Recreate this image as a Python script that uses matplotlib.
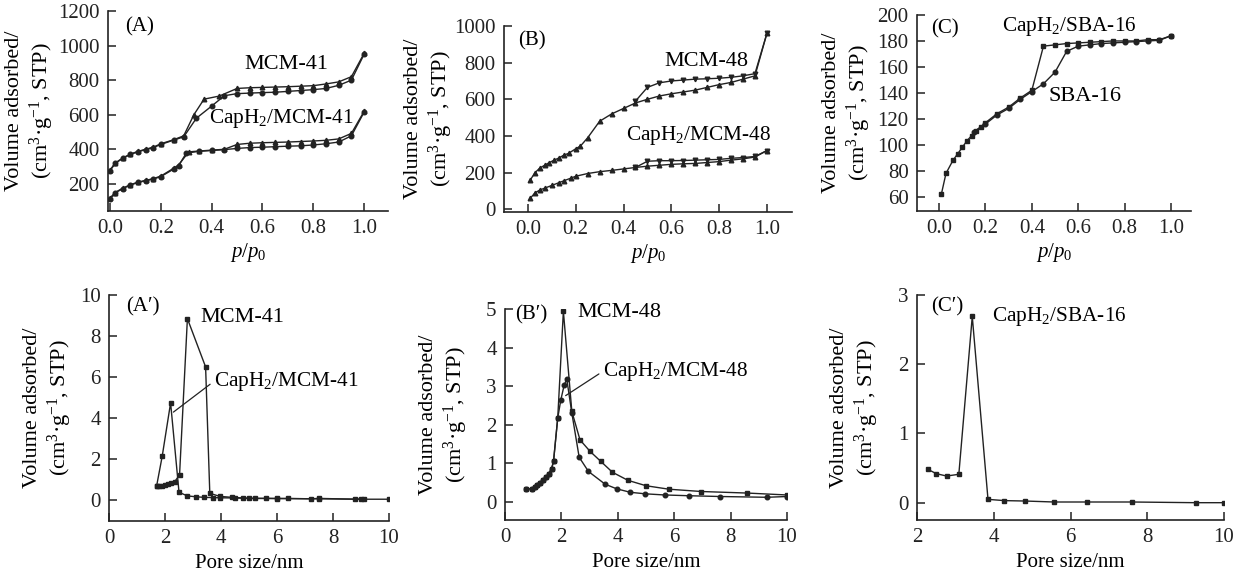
import matplotlib
matplotlib.use("Agg")
import matplotlib.pyplot as plt

plt.rcParams['font.family'] = ['Liberation Serif', 'DejaVu Serif']
plt.rcParams['mathtext.fontset'] = 'custom'
plt.rcParams['mathtext.rm'] = 'Liberation Serif'
plt.rcParams['mathtext.it'] = 'Liberation Serif:italic'
plt.rcParams['font.size'] = 15

INK = '#222222'

# ---- (A) MCM-41 isotherms ----
a_mcm_ads_p = [0.0, 0.02, 0.05, 0.08, 0.11, 0.14, 0.17, 0.2, 0.25, 0.29, 0.33, 0.37, 0.43, 0.5, 0.55, 0.6, 0.65, 0.7, 0.75, 0.8, 0.85, 0.9, 0.95, 1.0]
a_mcm_ads_v = [280, 320, 350, 372, 388, 400, 412, 432, 455, 478, 600, 690, 708, 752, 756, 758, 760, 762, 765, 768, 778, 790, 820, 955]
a_mcm_des_p = [0.0, 0.02, 0.05, 0.08, 0.11, 0.14, 0.17, 0.2, 0.25, 0.29, 0.34, 0.40, 0.45, 0.5, 0.55, 0.6, 0.65, 0.7, 0.75, 0.8, 0.85, 0.9, 0.95, 1.0]
a_mcm_des_v = [275, 318, 348, 370, 386, 398, 410, 428, 453, 472, 580, 650, 710, 722, 725, 728, 730, 735, 740, 745, 752, 770, 800, 950]
a_cap_ads_p = [0.0, 0.02, 0.05, 0.08, 0.11, 0.14, 0.17, 0.2, 0.25, 0.27, 0.31, 0.35, 0.4, 0.45, 0.5, 0.55, 0.6, 0.65, 0.7, 0.75, 0.8, 0.85, 0.9, 0.95, 1.0]
a_cap_ads_v = [118, 150, 175, 195, 210, 220, 230, 245, 290, 310, 385, 390, 395, 400, 428, 435, 438, 440, 442, 445, 448, 452, 460, 492, 620]
a_cap_des_p = [0.0, 0.02, 0.05, 0.08, 0.11, 0.14, 0.17, 0.2, 0.25, 0.27, 0.30, 0.35, 0.4, 0.45, 0.5, 0.55, 0.6, 0.65, 0.7, 0.75, 0.8, 0.85, 0.9, 0.95, 1.0]
a_cap_des_v = [112, 148, 172, 193, 208, 218, 228, 242, 285, 305, 378, 388, 393, 398, 405, 410, 412, 415, 418, 420, 425, 432, 442, 478, 615]

# ---- (B) MCM-48 isotherms ----
b_mcm_ads_p = [0.01, 0.03, 0.05, 0.07, 0.09, 0.11, 0.13, 0.15, 0.17, 0.2, 0.22, 0.25, 0.3, 0.35, 0.4, 0.45, 0.5, 0.55, 0.6, 0.65, 0.7, 0.75, 0.8, 0.85, 0.9, 0.95, 1.0]
b_mcm_ads_v = [160, 200, 225, 240, 255, 268, 280, 295, 305, 330, 345, 390, 480, 520, 550, 580, 600, 618, 630, 640, 650, 665, 680, 692, 710, 728, 960]
b_mcm_des_p = [0.45, 0.5, 0.55, 0.6, 0.65, 0.7, 0.75, 0.8, 0.85, 0.9, 0.95, 1.0]
b_mcm_des_v = [590, 665, 690, 700, 705, 710, 712, 715, 720, 728, 740, 960]
b_cap_ads_p = [0.01, 0.03, 0.05, 0.07, 0.1, 0.13, 0.15, 0.18, 0.2, 0.25, 0.3, 0.35, 0.4, 0.45, 0.5, 0.55, 0.6, 0.65, 0.7, 0.75, 0.8, 0.85, 0.9, 0.95, 1.0]
b_cap_ads_v = [60, 90, 105, 115, 130, 145, 155, 170, 180, 195, 205, 212, 220, 228, 235, 240, 245, 248, 250, 255, 260, 268, 275, 285, 320]
b_cap_des_p = [0.45, 0.5, 0.55, 0.6, 0.65, 0.7, 0.75, 0.8, 0.85, 0.9, 0.95, 1.0]
b_cap_des_v = [228, 262, 265, 265, 266, 268, 270, 272, 278, 282, 288, 320]

# ---- (C) SBA-16 isotherms ----
c_s1_p = [0.01, 0.03, 0.06, 0.08, 0.1, 0.12, 0.14, 0.16, 0.18, 0.2, 0.25, 0.3, 0.35, 0.4, 0.45, 0.5, 0.55, 0.6, 0.65, 0.7, 0.75, 0.8, 0.85, 0.9, 0.95, 1.0]
c_s1_v = [62, 78, 88, 93, 98, 103, 107, 111, 114, 117, 124, 129, 136, 142, 176, 177, 178, 178.5, 179, 179.5, 180, 180, 180, 181, 181, 184]
c_s2_p = [0.15, 0.2, 0.25, 0.3, 0.35, 0.4, 0.45, 0.5, 0.55, 0.6, 0.65, 0.7, 0.75, 0.8, 0.85, 0.9, 0.95, 1.0]
c_s2_v = [110, 116, 123, 128, 135, 141, 147, 156, 172, 176, 177, 178, 178.5, 179, 179.5, 180, 180.5, 184]

# ---- (A') pore size distributions ----
ap_mcm_d = [1.7, 1.8, 1.9, 2.0, 2.1, 2.2, 2.35, 2.52, 2.8, 3.45, 3.6, 3.95, 4.4, 4.8, 5.2, 6.0, 6.4, 7.2, 7.5, 8.8, 9.1]
ap_mcm_v = [0.68, 0.68, 0.7, 0.75, 0.8, 0.85, 0.92, 1.25, 8.85, 6.5, 0.35, 0.2, 0.15, 0.12, 0.1, 0.1, 0.1, 0.08, 0.1, 0.06, 0.08]
ap_cap_d = [1.7, 1.9, 2.2, 2.5, 2.8, 3.1, 3.4, 3.7, 3.95, 4.5, 5.0, 5.6, 6.0, 7.5, 9.0, 10.0]
ap_cap_v = [0.7, 2.15, 4.75, 0.4, 0.22, 0.18, 0.15, 0.14, 0.13, 0.12, 0.1, 0.1, 0.09, 0.08, 0.06, 0.06]

# ---- (B') pore size distributions ----
bp_mcm_d = [0.75, 0.95, 1.05, 1.15, 1.25, 1.35, 1.45, 1.55, 1.65, 1.72, 1.87, 2.07, 2.37, 2.66, 3.02, 3.4, 3.81, 4.36, 5.0, 5.81, 6.96, 8.58, 10.0]
bp_mcm_v = [0.33, 0.33, 0.37, 0.42, 0.48, 0.55, 0.63, 0.72, 0.85, 1.04, 2.17, 4.94, 2.34, 1.6, 1.3, 1.04, 0.76, 0.55, 0.41, 0.32, 0.26, 0.22, 0.17]
bp_cap_d = [0.75, 0.95, 1.05, 1.15, 1.25, 1.35, 1.45, 1.55, 1.65, 1.72, 1.87, 1.98, 2.1, 2.19, 2.37, 2.63, 2.96, 3.55, 3.96, 4.44, 4.97, 5.66, 6.54, 7.63, 9.29, 10.0]
bp_cap_v = [0.33, 0.33, 0.37, 0.42, 0.48, 0.55, 0.63, 0.72, 0.85, 1.04, 2.17, 2.64, 3.03, 3.18, 2.3, 1.15, 0.78, 0.45, 0.33, 0.24, 0.2, 0.17, 0.15, 0.13, 0.11, 0.13]

# ---- (C') pore size distribution ----
cp_d = [2.29, 2.5, 2.77, 3.09, 3.44, 3.85, 4.28, 4.82, 5.57, 6.42, 7.6, 9.26, 10.0]
cp_v = [0.48, 0.42, 0.385, 0.41, 2.69, 0.048, 0.03, 0.024, 0.01, 0.01, 0.01, 0.0, 0.0]

W, H = 1235, 575
fig = plt.figure(figsize=(W / 100, H / 100), dpi=100)

ylab = 'Volume adsorbed/\n(cm$^3$·g$^{-1}$, STP)'
kw = dict(color=INK, lw=1.0, ms=3.3)


def make_ax(left, right, top, bottom, label_gap):
    ax = fig.add_axes([left / W, 1 - bottom / H, (right - left) / W, (bottom - top) / H])
    for s in ['top', 'right']:
        ax.spines[s].set_visible(False)
    for s in ['left', 'bottom']:
        ax.spines[s].set_linewidth(1.2)
        ax.spines[s].set_color(INK)
    ax.tick_params(direction='in', length=6, width=1.1, colors=INK, labelsize=15, pad=6)
    ax.set_ylabel(ylab, fontsize=16)
    # right edge of the y label block sits label_gap px left of the spine
    ax.yaxis.set_label_coords(-label_gap / (right - left), 0.5)
    return ax


# (A)
ax = make_ax(108, 388, 11, 211, 52)
ax.plot(a_mcm_ads_p, a_mcm_ads_v, marker='^', **kw)
ax.plot(a_mcm_des_p, a_mcm_des_v, marker='o', **kw)
ax.plot(a_cap_ads_p, a_cap_ads_v, marker='^', **kw)
ax.plot(a_cap_des_p, a_cap_des_v, marker='o', **kw)
ax.set_xlim(-0.008, 1.094)
ax.set_ylim(43, 1200)
ax.set_xticks([0.0, 0.2, 0.4, 0.6, 0.8, 1.0])
ax.set_xticklabels(['0.0', '0.2', '0.4', '0.6', '0.8', '1.0'])
ax.set_yticks([200, 400, 600, 800, 1000, 1200])
ax.text(0.53, 890, 'MCM-41', va='center', fontsize=16)
ax.text(0.39, 580, 'CapH$_2$/MCM-41', va='center', fontsize=15.3)
ax.text(0.06, 0.97, '(A)', transform=ax.transAxes, va='top', fontsize=15)
ax.set_xlabel('$p$/$p_0$', fontsize=15, labelpad=2)

# (B)
ax = make_ax(504, 792, 26, 212, 49)
ax.plot(b_mcm_ads_p, b_mcm_ads_v, marker='^', **kw)
ax.plot(b_mcm_des_p, b_mcm_des_v, marker='v', **kw)
ax.plot(b_cap_ads_p, b_cap_ads_v, marker='^', **kw)
ax.plot(b_cap_des_p, b_cap_des_v, marker='v', **kw)
ax.set_xlim(-0.10, 1.105)
ax.set_ylim(-15, 1000)
ax.set_xticks([0.0, 0.2, 0.4, 0.6, 0.8, 1.0])
ax.set_xticklabels(['0.0', '0.2', '0.4', '0.6', '0.8', '1.0'])
ax.set_yticks([0, 200, 400, 600, 800, 1000])
ax.text(0.57, 805, 'MCM-48', va='center', fontsize=16)
ax.text(0.41, 405, 'CapH$_2$/MCM-48', va='center', fontsize=15.3)
ax.text(0.05, 0.97, '(B)', transform=ax.transAxes, va='top', fontsize=15)
ax.set_xlabel('$p$/$p_0$', fontsize=15, labelpad=2)

# (C)
ax = make_ax(917, 1191, 15, 211, 44)
ax.plot(c_s1_p, c_s1_v, marker='s', **kw)
ax.plot(c_s2_p, c_s2_v, marker='o', **kw)
ax.set_xlim(-0.095, 1.086)
ax.set_ylim(49, 200)
ax.set_xticks([0.0, 0.2, 0.4, 0.6, 0.8, 1.0])
ax.set_xticklabels(['0.0', '0.2', '0.4', '0.6', '0.8', '1.0'])
ax.set_yticks(range(60, 201, 20))
ax.text(0.27, 191, 'CapH$_2$/SBA-16', va='center', fontsize=15.3)
ax.text(0.47, 137, 'SBA-16', va='center', fontsize=16)
ax.text(0.05, 0.98, '(C)', transform=ax.transAxes, va='top', fontsize=15)
ax.set_xlabel('$p$/$p_0$', fontsize=15, labelpad=2)

# (A')
ax = make_ax(109, 389, 295, 521, 35)
ax.plot(ap_mcm_d, ap_mcm_v, marker='s', **kw)
ax.plot(ap_cap_d, ap_cap_v, marker='s', **kw)
ax.set_xlim(0, 10)
ax.set_ylim(-1, 10)
ax.set_xticks([0, 2, 4, 6, 8, 10])
ax.set_yticks([0, 2, 4, 6, 8, 10])
ax.text(3.25, 8.9, 'MCM-41', va='center', fontsize=16)
ax.annotate('CapH$_2$/MCM-41', xy=(2.3, 4.3), xytext=(3.75, 5.8), va='center', fontsize=15.3,
            arrowprops=dict(arrowstyle='-', color=INK, lw=0.9, relpos=(0, 0.5), shrinkA=1, shrinkB=0))
ax.text(0.06, 0.99, '(A′)', transform=ax.transAxes, va='top', fontsize=15)
ax.set_xlabel('Pore size/nm', fontsize=15, labelpad=4)

# (B')
ax = make_ax(505, 787, 309, 520, 35)
ax.plot(bp_mcm_d, bp_mcm_v, marker='s', **kw)
ax.plot(bp_cap_d, bp_cap_v, marker='o', **kw)
ax.set_xlim(0, 10)
ax.set_ylim(-0.48, 5)
ax.set_xticks([0, 2, 4, 6, 8, 10])
ax.set_yticks([0, 1, 2, 3, 4, 5])
ax.text(2.55, 4.9, 'MCM-48', va='center', fontsize=16)
ax.annotate('CapH$_2$/MCM-48', xy=(2.15, 2.75), xytext=(3.47, 3.38), va='center', fontsize=15.3,
            arrowprops=dict(arrowstyle='-', color=INK, lw=0.9, relpos=(0, 0.5), shrinkA=1, shrinkB=0))
ax.text(0.035, 1.02, '(B′)', transform=ax.transAxes, va='top', fontsize=15)
ax.set_xlabel('Pore size/nm', fontsize=15, labelpad=4)

# (C')
ax = make_ax(917, 1224, 295, 520, 36)
ax.plot(cp_d, cp_v, marker='s', **kw)
ax.set_xlim(2, 10)
ax.set_ylim(-0.25, 3)
ax.set_xticks([2, 4, 6, 8, 10])
ax.set_yticks([0, 1, 2, 3])
ax.text(3.95, 2.69, 'CapH$_2$/SBA-16', va='center', fontsize=15.3)
ax.text(0.045, 0.99, '(C′)', transform=ax.transAxes, va='top', fontsize=15)
ax.set_xlabel('Pore size/nm', fontsize=15, labelpad=4)

fig.savefig('out.png', dpi=100, facecolor='white')
